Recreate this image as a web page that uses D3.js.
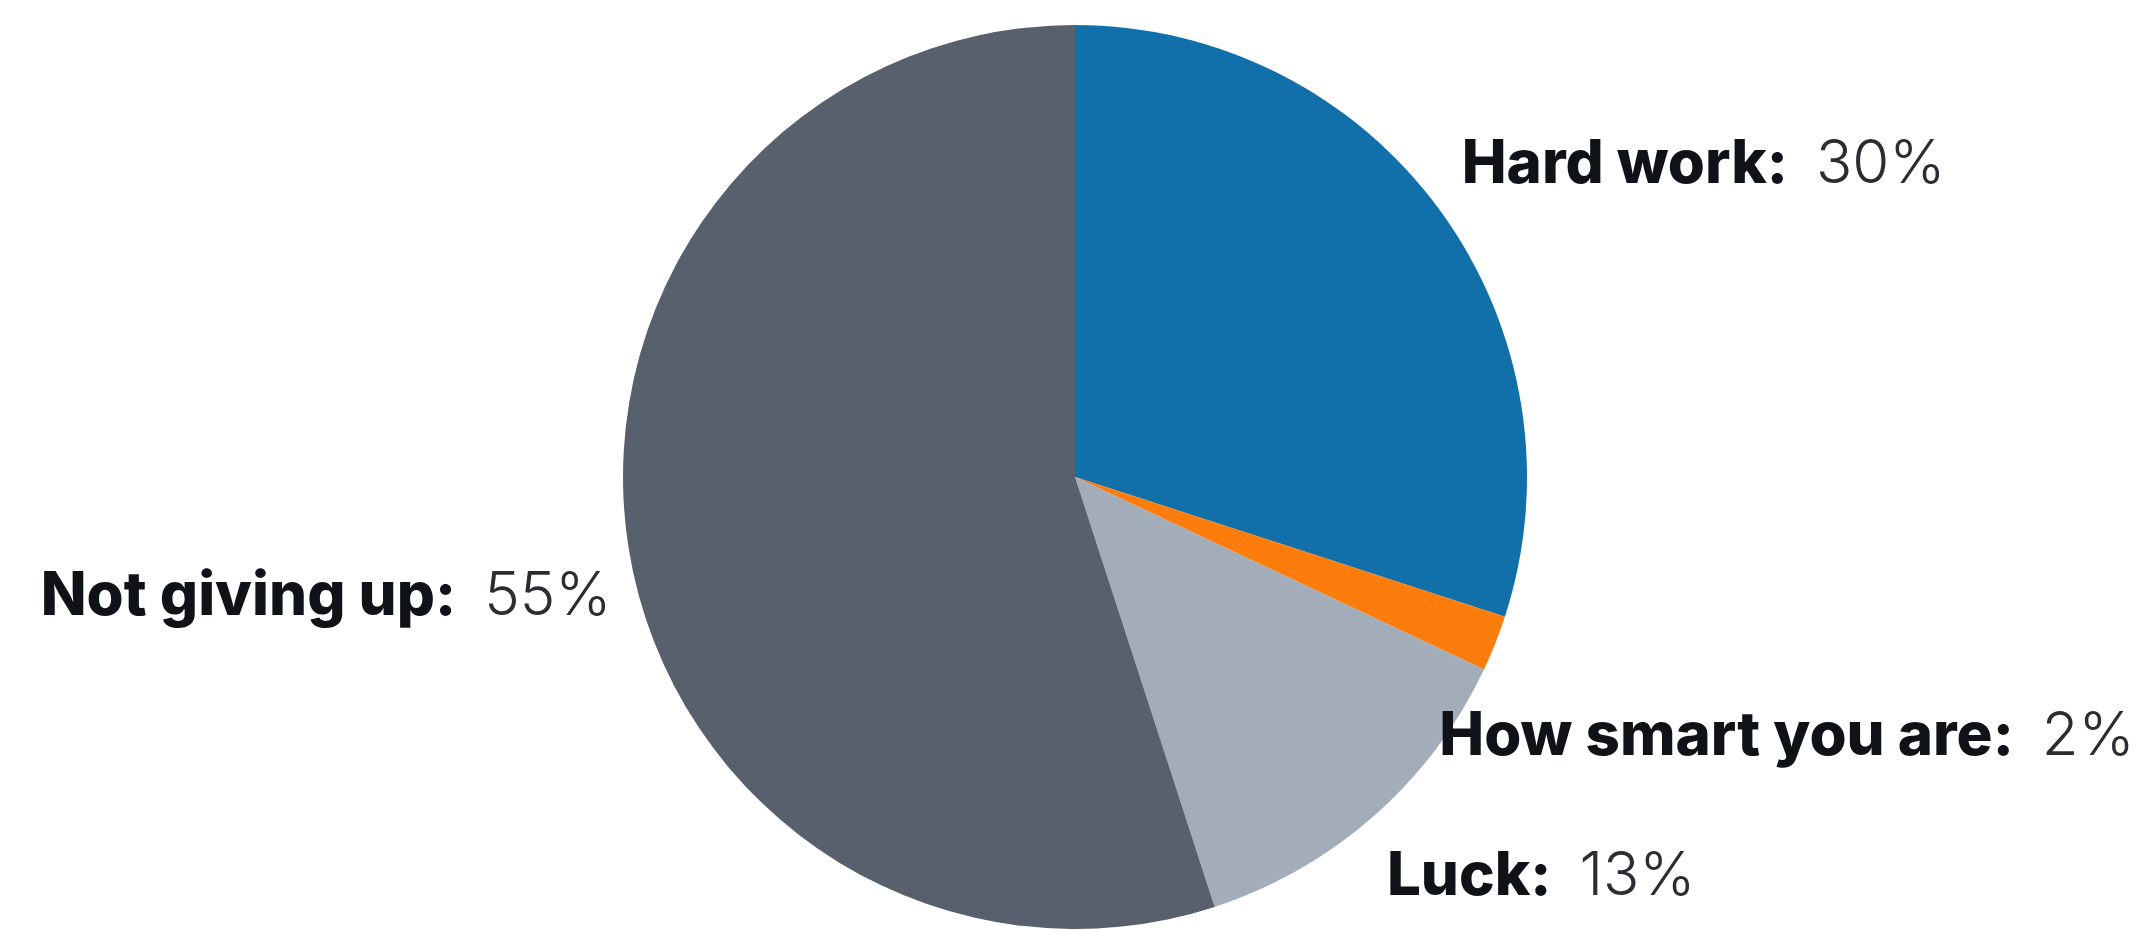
<!DOCTYPE html>
<html>
<head>
<meta charset="utf-8">
<script src="https://cdn.jsdelivr.net/npm/d3@7"></script>
<style>
  html, body { margin: 0; padding: 0; background: #ffffff; }
  svg { display: block; }
</style>
</head>
<body>
<svg id="chart" width="2156" height="935"></svg>
<script>
// Survey answers: what matters most for success
const categories = ["Hard work", "How smart you are", "Luck", "Not giving up"];
const shares = [30, 2, 13, 55];
const sliceColors = ["#1170aa", "#fc7d0b", "#a3acb9", "#57606c"];

const width = 2156, height = 935;
const cx = 1075, cy = 477, radius = 452;

const svg = d3.select("#chart");
const g = svg.append("g").attr("transform", `translate(${cx},${cy})`);

const pie = d3.pie().sort(null).value(d => d.value);
const arc = d3.arc().innerRadius(0).outerRadius(radius);
const edgeArc = d3.arc().innerRadius(radius).outerRadius(radius);

const data = categories.map((c, i) => ({ name: c, value: shares[i], color: sliceColors[i] }));
const arcs = pie(data);

g.selectAll("path.slice")
  .data(arcs)
  .join("path")
  .attr("class", "slice")
  .attr("d", arc)
  .attr("fill", d => d.data.color);

// Label placement: offset from the slice's mid-angle point on the rim
const labelOffsets = {
  "Hard work": { dx: 21, dy: -28, anchor: "start" },
  "How smart you are": { dx: -56, dy: 112, anchor: "start" },
  "Luck": { dx: 13, dy: 79, anchor: "start" },
  "Not giving up": { dx: -17, dy: 67, anchor: "end" }
};

g.selectAll("text.label")
  .data(arcs)
  .join("text")
  .attr("class", "label")
  .attr("font-family", "Inter, 'Noto Sans', sans-serif")
  .attr("font-size", 60)
  .each(function(d) {
    const [x, y] = edgeArc.centroid(d);
    const o = labelOffsets[d.data.name];
    const t = d3.select(this)
      .attr("x", x + o.dx)
      .attr("y", y + o.dy)
      .attr("text-anchor", o.anchor);
    t.append("tspan")
      .attr("font-weight", 800)
      .attr("letter-spacing", 0)
      .attr("fill", "#0f1216")
      .text(d.data.name + ":");
    t.append("tspan")
      .attr("dx", 28)
      .attr("font-weight", 300)
      .attr("fill", "#2a2d33")
      .text(d3.format(".0f")(d.data.value) + "%");
  });
</script>
</body>
</html>
